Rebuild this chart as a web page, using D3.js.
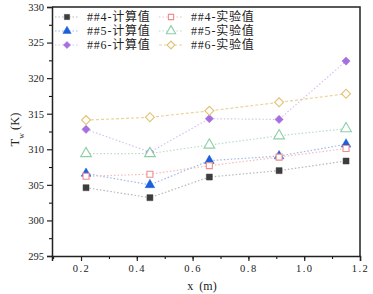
<!DOCTYPE html>
<html>
<head>
    <meta charset="utf-8">
    <script src="https://d3js.org/d3.v7.min.js"></script>
    <style>
        body { margin: 0; background: #fff; }
        svg { display: block; }
        text { font-family: "Liberation Serif", "Noto Sans CJK SC", serif; fill: #222; }
    </style>
</head>
<body>
<svg id="chart" width="373" height="294"></svg>
<script>
    // x positions (m)
    const xPos = [0.218, 0.447, 0.66, 0.91, 1.15];

    // wall temperature (K)
    const calc4 = [304.6, 303.2, 306.1, 307.0, 308.35];
    const calc5 = [306.6, 305.0, 308.4, 309.05, 310.7];
    const calc6 = [312.8, 309.6, 314.3, 314.2, 322.4];
    const exp4 = [306.2, 306.5, 307.7, 308.9, 310.1];
    const exp5 = [309.4, 309.4, 310.6, 311.9, 312.9];
    const exp6 = [314.1, 314.5, 315.4, 316.6, 317.8];

    const seriesNames = ["##4-计算值", "##5-计算值", "##6-计算值", "##4-实验值", "##5-实验值", "##6-实验值"];
    const xTicks = [0.2, 0.4, 0.6, 0.8, 1.0, 1.2];
    const yTicks = [295, 300, 305, 310, 315, 320, 325, 330];

    // diamonds are squares turned 45 degrees
    const series = [
        { name: seriesNames[0], values: calc4, shape: d3.symbolSquare, rot: 0, size: 36, color: "#3d3d3d", line: "#b8b8b8", filled: true, dash: "1.5,2" },
        { name: seriesNames[1], values: calc5, shape: d3.symbolTriangle, rot: 0, size: 40, color: "#1a5fdc", line: "#9db8ee", filled: true, dash: "1.5,2" },
        { name: seriesNames[2], values: calc6, shape: d3.symbolSquare, rot: 45, size: 34, color: "#a56fe0", line: "#d6c2f2", filled: true, dash: "1.5,2" },
        { name: seriesNames[3], values: exp4, shape: d3.symbolSquare, rot: 0, size: 36, color: "#f08c8c", line: "#f4bcbc", filled: false, dash: "1.5,2" },
        { name: seriesNames[4], values: exp5, shape: d3.symbolTriangle, rot: 0, size: 50, color: "#8ecfa8", line: "#b4e0c6", filled: false, dash: "1.5,2" },
        { name: seriesNames[5], values: exp6, shape: d3.symbolSquare, rot: 45, size: 40, color: "#e2c272", line: "#ecd39c", filled: false, dash: "3,2" }
    ];

    const svg = d3.select("#chart");
    const margin = { top: 7, right: 13, bottom: 38, left: 52 };
    const width = 373 - margin.left - margin.right,
          height = 294 - margin.top - margin.bottom;

    const g = svg.append("g").attr("transform", `translate(${margin.left},${margin.top})`);

    const x = d3.scaleLinear().domain([0.096, 1.2]).range([0, width]);
    const y = d3.scaleLinear().domain([295, 330]).range([height, 0]);

    // minor ticks
    const xMinor = d3.range(0.1, 1.21, 0.1).filter(v => x(v) >= 0);
    const yMinor = d3.range(297.5, 330, 5);

    g.append("g")
        .attr("transform", `translate(0,${height})`)
        .call(d3.axisBottom(x).tickValues(xMinor).tickSize(3).tickFormat(""))
        .call(a => a.select(".domain").remove());
    g.append("g")
        .call(d3.axisLeft(y).tickValues(yMinor).tickSize(3).tickFormat(""))
        .call(a => a.select(".domain").remove());

    const xAxis = g.append("g")
        .attr("transform", `translate(0,${height})`)
        .call(d3.axisBottom(x).tickValues(xTicks).tickSize(5).tickPadding(4).tickFormat(d3.format(".1f")));
    const yAxis = g.append("g")
        .call(d3.axisLeft(y).tickValues(yTicks).tickSize(5).tickPadding(3).tickFormat(d3.format("d")));

    [xAxis, yAxis].forEach(a => {
        a.selectAll("text").style("font-size", "10.5px").attr("fill", "#333");
        a.selectAll("line").attr("stroke", "#222").attr("stroke-width", 1.2);
        a.select(".domain").attr("stroke", "#222").attr("stroke-width", 1.5);
    });
    xAxis.selectAll("text").style("letter-spacing", "1.5px");

    // frame
    g.append("path")
        .attr("d", `M0,0H${width}V${height}`)
        .attr("fill", "none")
        .attr("stroke", "#222")
        .attr("stroke-width", 1.5);

    const line = d3.line().x((d, i) => x(xPos[i])).y(d => y(d));

    series.forEach(s => {
        g.append("path")
            .datum(s.values)
            .attr("d", line)
            .attr("fill", "none")
            .attr("stroke", s.line)
            .attr("stroke-width", 1.2)
            .attr("stroke-dasharray", s.dash);
    });

    series.forEach(s => {
        g.selectAll(null)
            .data(s.values)
            .enter()
            .append("path")
            .attr("d", d3.symbol().type(s.shape).size(s.size))
            .attr("transform", (d, i) => `translate(${x(xPos[i])},${y(d)}) rotate(${s.rot})`)
            .attr("fill", s.filled ? s.color : "#fff")
            .attr("stroke", s.color)
            .attr("stroke-width", s.filled ? 0.5 : 1.1);
    });

    // legend
    const legend = svg.append("g");
    series.forEach((s, i) => {
        const col = Math.floor(i / 3), row = i % 3;
        const lx = col === 0 ? 67 : 171;
        const ly = 17 + row * 14;
        legend.append("line")
            .attr("x1", lx - 12).attr("x2", lx + 12)
            .attr("y1", ly).attr("y2", ly)
            .attr("stroke", s.line)
            .attr("stroke-width", 1.2)
            .attr("stroke-dasharray", s.dash);
        legend.append("path")
            .attr("d", d3.symbol().type(s.shape).size(s.size * 0.75))
            .attr("transform", `translate(${lx},${ly}) rotate(${s.rot})`)
            .attr("fill", s.filled ? s.color : "#fff")
            .attr("stroke", s.color)
            .attr("stroke-width", s.filled ? 0.5 : 1.1);
        legend.append("text")
            .attr("x", lx + 20)
            .attr("y", ly)
            .attr("dy", "0.35em")
            .style("font-size", "12px")
            .style("letter-spacing", "0.8px")
            .attr("fill", "#333")
            .text(s.name);
    });

    // axis titles
    svg.append("text")
        .attr("x", margin.left + width / 2 - 4)
        .attr("y", 290)
        .attr("text-anchor", "middle")
        .style("font-size", "12px")
        .text("x\u2002(m)");

    const yt = svg.append("text")
        .attr("transform", `translate(19,${margin.top + height / 2 - 2}) rotate(-90)`)
        .attr("text-anchor", "middle")
        .style("font-size", "12.5px");
    yt.append("tspan").text("T");
    yt.append("tspan").attr("baseline-shift", "sub").style("font-size", "8px").text("w");
    yt.append("tspan").text(" (K)");
</script>
</body>
</html>
